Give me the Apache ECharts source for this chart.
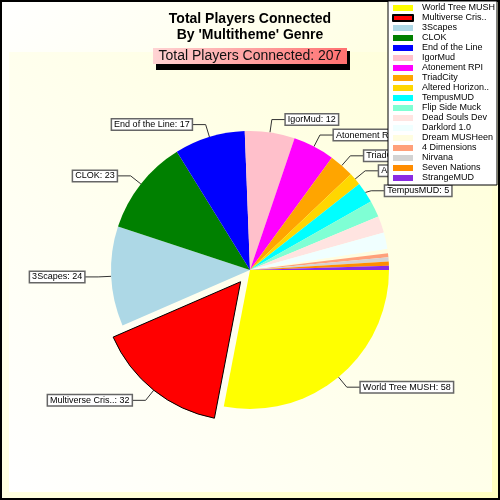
<!DOCTYPE html>
<html>
<head>
<meta charset="utf-8">
<script src="https://cdn.jsdelivr.net/npm/echarts@6/dist/echarts.min.js"></script>
<style>html,body{margin:0;padding:0;background:#fff}#c{width:500px;height:500px}</style>
</head>
<body>
<div id="c"></div>
<script>
const names = ['World Tree MUSH','Multiverse Cris..','3Scapes','CLOK','End of the Line','IgorMud','Atonement RPI','TriadCity','Altered Horizon..','TempusMUD','Flip Side Muck','Dead Souls Dev','Darklord 1.0','Dream MUSHeen','4 Dimensions','Nirvana','Seven Nations','StrangeMUD'];
const values = [58,32,24,23,17,12,10,6,3,5,4,4,4,1,1,1,1,1];
const colors = ['#FFFF00','#FF0000','#ADD8E6','#008000','#0000FF','#FFC0CB','#FF00FF','#FFA500','#FFD700','#00FFFF','#7FFFD4','#FFE4E1','#F0FFFF','#FFFDE0','#FFA07A','#D3D3D3','#FF8C00','#8A2BE2'];
const labelled = 10;
const explodedIndex = 1;
const titleText = "Total Players Connected\nBy 'Multitheme' Genre";
const subtitleText = 'Total Players Connected: 207';

const chart = echarts.init(document.getElementById('c'), null, {renderer:'canvas'});
const data = names.map((n,i)=>({
  name:n, value:values[i],
  selected: i===explodedIndex,
  itemStyle: i===explodedIndex ? {color:colors[i], borderColor:'#000', borderWidth:1} : {color:colors[i], borderWidth:0},
  label: {show: i<labelled},
  labelLine: {show: i<labelled, length: i===9 ? 3 : 13}
}));
chart.setOption({
  animation:false,
  graphic:[
    {type:'rect', z:-10, shape:{x:1,y:1,width:498,height:498},
     style:{fill:new echarts.graphic.LinearGradient(0,0,1,1,[{offset:0,color:'#FFFFFF'},{offset:1,color:'#FFFFC0'}]), stroke:'#000', lineWidth:2}},
    {type:'rect', z:-9, shape:{x:9,y:52,width:483,height:440},
     style:{fill:new echarts.graphic.LinearGradient(0,1,1,0,[{offset:0,color:'#FFFFFF'},{offset:1,color:'#FFFFD8'}])}},
    {type:'rect', z:5, shape:{x:156,y:51,width:194,height:19}, style:{fill:'#000'}},
    {type:'rect', z:6, shape:{x:153,y:48,width:194,height:16},
     style:{fill:new echarts.graphic.LinearGradient(0,0,1,1,[{offset:0,color:'#FFD4D4'},{offset:1,color:'#FF7070'}])}},
    {type:'text', z:7, x:250, y:56, style:{text:subtitleText, fontSize:14, fontFamily:'Liberation Sans, Arial', fill:'#111', align:'center', verticalAlign:'middle'}}
  ],
  title:{text:titleText, left:'center', top:6,
    textStyle:{fontSize:14, fontWeight:'bold', fontFamily:'Liberation Sans, Arial', color:'#000', lineHeight:16}},
  legend:{
    orient:'vertical', left:388, top:1, z:20,
    padding:[2,2,2,4], itemGap:0, itemWidth:20, itemHeight:6, icon:'rect',
    backgroundColor:'#fff', borderColor:'#000', borderWidth:1, borderRadius:0,
    selectedMode:false,
    textStyle:{fontSize:9, fontFamily:'Liberation Sans, Arial', color:'#000', lineHeight:10, padding:[0,0,0,4]},
    data:names
  },
  series:[{
    type:'pie', z:2,
    center:[250,270], radius:[0,139],
    startAngle:0, clockwise:true,
    selectedMode:'single', selectedOffset:15,
    select:{itemStyle:{color:'#FF0000', borderColor:'#000', borderWidth:1}},
    emphasis:{disabled:true},
    avoidLabelOverlap:true,
    label:{show:true, position:'outside', formatter:'{b}: {c}', fontSize:9, fontFamily:'Liberation Sans, Arial', color:'#000',
      backgroundColor:'#fff', borderColor:'#666', borderWidth:1.5, padding:[1,2,0,2], distanceToLabelLine:0},
    labelLine:{show:true, length:13, length2:14, lineStyle:{color:'#333', width:1}},
    data:data
  }]
});
</script>
</body>
</html>
